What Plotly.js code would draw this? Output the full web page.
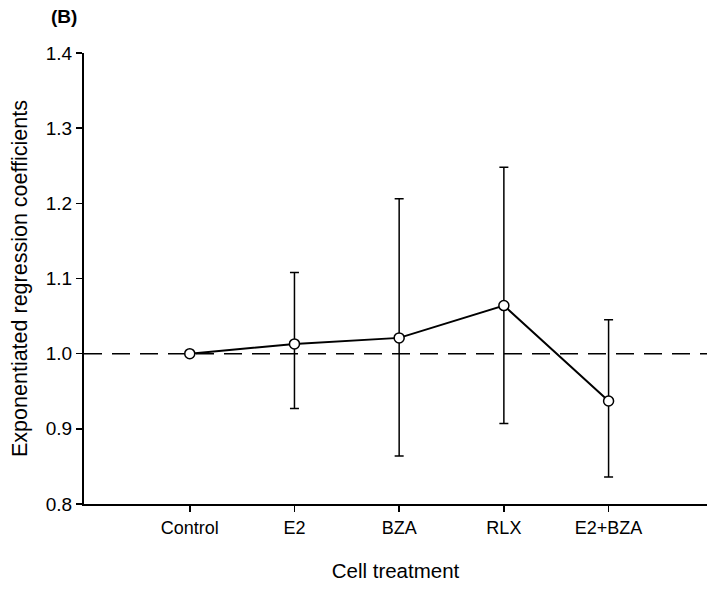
<!DOCTYPE html>
<html>
<head>
<meta charset="utf-8">
<script src="https://cdn.plot.ly/plotly-3.0.1.min.js"></script>
<style>
  html, body { margin: 0; padding: 0; background: #fff; }
  #chart { width: 707px; height: 589px; }
</style>
</head>
<body>
<div id="chart"></div>
<script>
// Data
const categories = ["Control", "E2", "BZA", "RLX", "E2+BZA"];
const coefficients = [1.000, 1.013, 1.021, 1.064, 0.937];
const upperCI = [1.000, 1.108, 1.206, 1.248, 1.045];
const lowerCI = [1.000, 0.927, 0.864, 0.907, 0.836];
const yTickValues = [0.8, 0.9, 1.0, 1.1, 1.2, 1.3, 1.4];
const yTickLabels = ["0.8", "0.9", "1.0", "1.1", "1.2", "1.3", "1.4"];
const referenceLevel = 1.0;

const xIdx = categories.map((c, i) => i);
const errPlus = coefficients.map((v, i) => upperCI[i] - v);
const errMinus = coefficients.map((v, i) => v - lowerCI[i]);

const FONT = "Liberation Sans, Arial, sans-serif";

const trace = {
  x: xIdx,
  y: coefficients,
  type: "scatter",
  mode: "lines+markers",
  line: { color: "#000", width: 2 },
  marker: { symbol: "circle", size: 10, color: "#fff", line: { color: "#000", width: 1.5 } },
  error_y: {
    type: "data",
    symmetric: false,
    array: errPlus,
    arrayminus: errMinus,
    color: "#000",
    thickness: 1.5,
    width: 4.5
  },
  showlegend: false,
  cliponaxis: false
};

const layout = {
  width: 707,
  height: 589,
  margin: { l: 84, r: 0, t: 53, b: 85, pad: 0 },
  paper_bgcolor: "#fff",
  plot_bgcolor: "#fff",
  font: { family: FONT, color: "#000" },
  xaxis: {
    range: [-1.01, 4.94],
    tickvals: xIdx,
    ticktext: categories,
    showgrid: false,
    zeroline: false,
    showline: true,
    linecolor: "#000",
    linewidth: 2,
    ticks: "outside",
    ticklen: 6,
    tickwidth: 1.5,
    tickcolor: "#000",
    tickfont: { family: FONT, size: 18, color: "#000" },
    title: { text: "Cell treatment", font: { family: FONT, size: 20.5, color: "#000" }, standoff: 27 },
    fixedrange: true
  },
  yaxis: {
    range: [0.8, 1.4],
    tickvals: yTickValues,
    ticktext: yTickLabels,
    showgrid: false,
    zeroline: false,
    showline: true,
    linecolor: "#000",
    linewidth: 2,
    ticks: "outside",
    ticklen: 6,
    tickwidth: 1.5,
    tickcolor: "#000",
    tickfont: { family: FONT, size: 19, color: "#000" },
    title: { text: "Exponentiated regression coefficients", font: { family: FONT, size: 21.5, color: "#000" }, standoff: 12 },
    fixedrange: true
  },
  shapes: [{
    type: "line",
    xref: "paper", x0: 0, x1: 1,
    yref: "y", y0: referenceLevel, y1: referenceLevel,
    line: { color: "#000", width: 1.5, dash: "18px,10px" },
    layer: "below"
  }],
  annotations: [{
    text: "<b>(B)</b>",
    xref: "paper", yref: "paper",
    x: (64 - 84) / 623, y: 1 + (53 - 17) / 451,
    xanchor: "center", yanchor: "middle",
    showarrow: false,
    font: { family: FONT, size: 19, color: "#000" }
  }]
};

Plotly.newPlot("chart", [trace], layout, { staticPlot: true, displayModeBar: false });
</script>
</body>
</html>
